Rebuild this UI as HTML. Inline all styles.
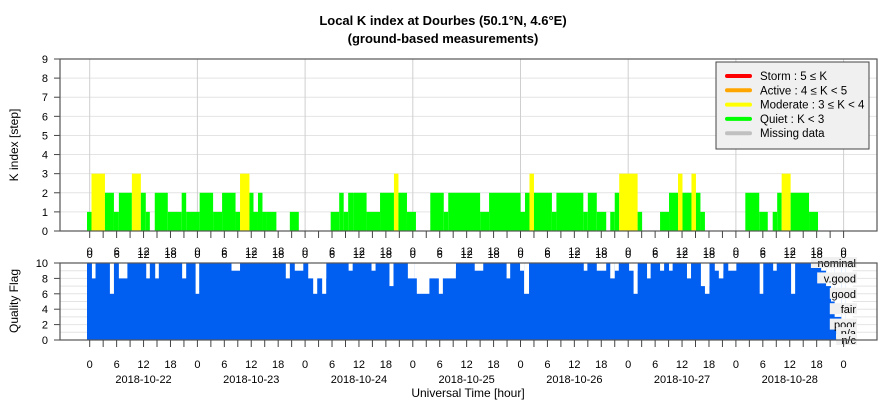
<!DOCTYPE html>
<html><head><meta charset="utf-8"><style>
body{margin:0;background:#fff}
svg{display:block;font-family:"Liberation Sans",sans-serif}
</style></head><body>
<svg id="chart" width="886" height="400" xmlns="http://www.w3.org/2000/svg">
<text x="443" y="25" text-anchor="middle" font-size="13" font-weight="bold">Local K index at Dourbes (50.1°N, 4.6°E)</text>
<text x="443" y="43" text-anchor="middle" font-size="13" font-weight="bold">(ground-based measurements)</text>
<g id="topg"></g><g id="botg"></g>
<text transform="translate(18,145) rotate(-90)" text-anchor="middle" font-size="12">K index [step]</text>
<text transform="translate(18,301) rotate(-90)" text-anchor="middle" font-size="12">Quality Flag</text>
<text x="468" y="397" text-anchor="middle" font-size="12">Universal Time [hour]</text>
</svg>
<script>
// K index segments: start hour, end hour (from 2018-10-22 00 UT), K value
const kStart=[-0.6,0.4,3.4,5.4,6.5,9.4,11.4,12.5,14.5,17.4,20.5,21.5,24.5,27.5,29.5,32.5,33.5,35.6,36.5,37.5,38.5,39.5,44.6,53.7,55.6,56.6,57.6,58.7,61.7,64.7,67.8,68.8,70.7,75.9,78.9,79.9,87.0,89.0,96.0,97.0,98.0,99.0,103.0,104.0,110.0,111.0,113.0,116.0,117.0,118.0,122.1,127.1,129.1,131.1,132.1,134.1,135.1,136.1,146.1,149.2,152.2,153.2,154.2,156.2,160.3];
const kEnd=[0.4,3.4,5.4,6.5,9.4,11.4,12.5,13.4,17.4,20.5,21.5,24.5,27.5,29.5,32.5,33.5,35.6,36.5,37.5,38.5,39.5,41.6,46.6,55.6,56.6,57.6,58.7,61.7,64.7,67.8,68.8,70.7,72.7,78.9,79.9,87.0,89.0,96.0,97.0,98.0,99.0,103.0,104.0,110.0,111.0,113.0,115.1,117.0,118.0,122.1,123.1,129.1,131.1,132.1,134.1,135.1,136.1,137.1,149.2,151.1,153.2,154.2,156.2,160.3,162.3];
const kVal=[1,3,2,1,2,3,2,1,2,1,2,1,2,1,2,1,3,2,1,2,1,1,1,1,2,1,2,2,1,2,3,2,1,2,1,2,1,2,1,2,3,2,1,2,1,2,1,1,2,3,1,1,2,3,2,3,2,1,2,1,1,2,3,2,1];
// Quality flag dips (baseline 10)
const qStart=[0.5,4.5,6.5,12.6,14.6,20.6,23.6,31.6,43.7,45.7,48.7,49.8,51.8,57.7,62.8,66.8,70.9,72.4,72.9,77.8,80.7,85.8,92.9,95.9,96.8,110.1,113.0,116.0,117.0,120.2,121.2,124.2,127.1,129.1,133.1,136.2,137.1,139.3,140.2,142.3,149.3,152.3,156.3,163.0,164.1,165.2,166.0,167.5,168.5];
const qEnd=[1.3,5.4,8.4,13.4,15.4,21.5,24.4,33.5,44.6,47.6,52.7,50.7,52.7,58.6,63.7,67.7,72.4,81.6,75.7,78.7,81.6,87.7,93.7,96.8,97.9,110.9,115.1,117.0,117.9,122.1,122.1,125.0,128.0,129.9,134.0,138.1,138.1,141.2,141.2,144.1,150.1,153.1,157.2,164.1,165.2,166.0,167.5,168.5,170];
const qVal=[8,6,8,8,8,8,6,9,8,9,8,6,6,9,9,7,8,8,6,6,9,9,8,9,6,9,9,8,9,9,6,8,9,9,8,7,6,9,8,9,6,9,6,9,7,5,3,1,0];
const qStartAll=-0.6, qEndAll=168.5;
const dayLabels=["2018-10-22","2018-10-23","2018-10-24","2018-10-25","2018-10-26","2018-10-27","2018-10-28"];
const hourTicks=["0","6","12","18"];
const qTicks=[0,2,4,6,8,10];
const qNames=["nominal","v.good","good","fair","poor","n/a","n/c"];
const qNameLv=[10,8,6,4,2,0.9,0];

(function(){
const NS="http://www.w3.org/2000/svg";
const L=60,R=877,X0=89.7,PXH=107.7/24;
const xs=h=>X0+h*PXH;
const T1=59,B1=231,ky=v=>B1-v*(B1-T1)/9;
const T2=263,B2=340,qy=v=>B2-v*(B2-T2)/10;
function mk(p,tag,a,txt){const e=document.createElementNS(NS,tag);for(const k in a)e.setAttribute(k,a[k]);if(txt!==undefined)e.textContent=txt;p.appendChild(e);return e;}
const gTop=document.getElementById('topg'),gBot=document.getElementById('botg');
for(let v=0;v<=9;v++){const e=mk(gTop,'line',{x1:L,x2:R,y1:ky(v),y2:ky(v),stroke:'#e4e4e4','stroke-width':1});


const t=mk(gTop,'text',{x:48,y:ky(v)+4,'text-anchor':'end','font-size':11},String(v));


mk(gTop,'line',{x1:54,x2:L,y1:ky(v),y2:ky(v),stroke:'#444'});}
for(let d=0;d<=7;d++){const e=mk(gTop,'line',{x1:xs(d*24),x2:xs(d*24),y1:T1,y2:B1,stroke:'#cfcfcf'});

}
function kColor(k){return k>=5?'#ff0000':k>=4?'#ffa500':k>=3?'#ffff00':'#00ff00';}
for(let i=0;i<kVal.length;i++){const r=mk(gTop,'rect',{x:xs(kStart[i]),y:ky(kVal[i]),width:Math.max(0,xs(kEnd[i])-xs(kStart[i])),height:B1-ky(kVal[i]),fill:kColor(kVal[i])});

}
mk(gTop,'rect',{x:L,y:T1,width:R-L,height:B1-T1,fill:'none',stroke:'#555','stroke-width':1.2});
function xaxis(g,yAxis,labelY){for(let h=0;h<=168;h+=3){mk(g,'line',{x1:xs(h),x2:xs(h),y1:yAxis,y2:yAxis+7,stroke:'#444'});}
for(let h=0;h<=168;h+=6){const t=mk(g,'text',{x:xs(h),y:labelY,'text-anchor':'middle','font-size':11},hourTicks[(h/6)%4]);

}}
xaxis(gTop,B1,255);
const lg=mk(gTop,'g',{});


mk(lg,'rect',{x:716,y:62,width:153,height:87,fill:'#f0f0f0',stroke:'#444'});
const legC=['#ff0000','#ffa500','#ffff00','#00ff00','#c0c0c0'];
const legT=['Storm : 5 ≤ K','Active : 4 ≤ K < 5','Moderate : 3 ≤ K < 4','Quiet : K < 3','Missing data'];
for(let i=0;i<5;i++){const y=76+i*14.3;
const ln=mk(lg,'line',{x1:727,x2:750,y1:y,y2:y,stroke:legC[i],'stroke-width':4,'stroke-linecap':'round'});


const t=mk(lg,'text',{x:760,y:y+4,'font-size':11.5},legT[i]);

}
for(let v=0;v<=10;v++){mk(gBot,'line',{x1:L,x2:R,y1:qy(v),y2:qy(v),stroke:'#e4e4e4'});}
for(const v of qTicks){const t=mk(gBot,'text',{x:48,y:qy(v)+4,'text-anchor':'end','font-size':11},String(v));


mk(gBot,'line',{x1:54,x2:L,y1:qy(v),y2:qy(v),stroke:'#444'});}
const qa=mk(gBot,'rect',{x:xs(qStartAll),y:qy(10),width:xs(qEndAll)-xs(qStartAll),height:B2-qy(10),fill:'#005ef0'});


for(let i=0;i<qVal.length;i++){const r=mk(gBot,'rect',{x:xs(qStart[i]),y:qy(10),width:Math.max(0,xs(qEnd[i])-xs(qStart[i])),height:qy(qVal[i])-qy(10),fill:'#ffffff'});

}
for(let i=0;i<qNames.length;i++){const y=qy(qNameLv[i])+4;const w=qNames[i].length*6.3;
mk(gBot,'rect',{x:856-w-1,y:y-10,width:w+2,height:11,fill:'#f0f0f0'});
const t=mk(gBot,'text',{x:856,y:y,'text-anchor':'end','font-size':11},qNames[i]);

}
mk(gBot,'rect',{x:L,y:T2,width:R-L,height:B2-T2,fill:'none',stroke:'#555','stroke-width':1.2});
for(let h=0;h<=168;h+=6){const t=mk(gBot,'text',{x:xs(h),y:258,'text-anchor':'middle','font-size':11},hourTicks[(h/6)%4]);

}
xaxis(gBot,B2,368);
for(let d=0;d<dayLabels.length;d++){const t=mk(gBot,'text',{x:xs(d*24+12),y:383,'text-anchor':'middle','font-size':11},dayLabels[d]);

}
})();
</script>
</body></html>
